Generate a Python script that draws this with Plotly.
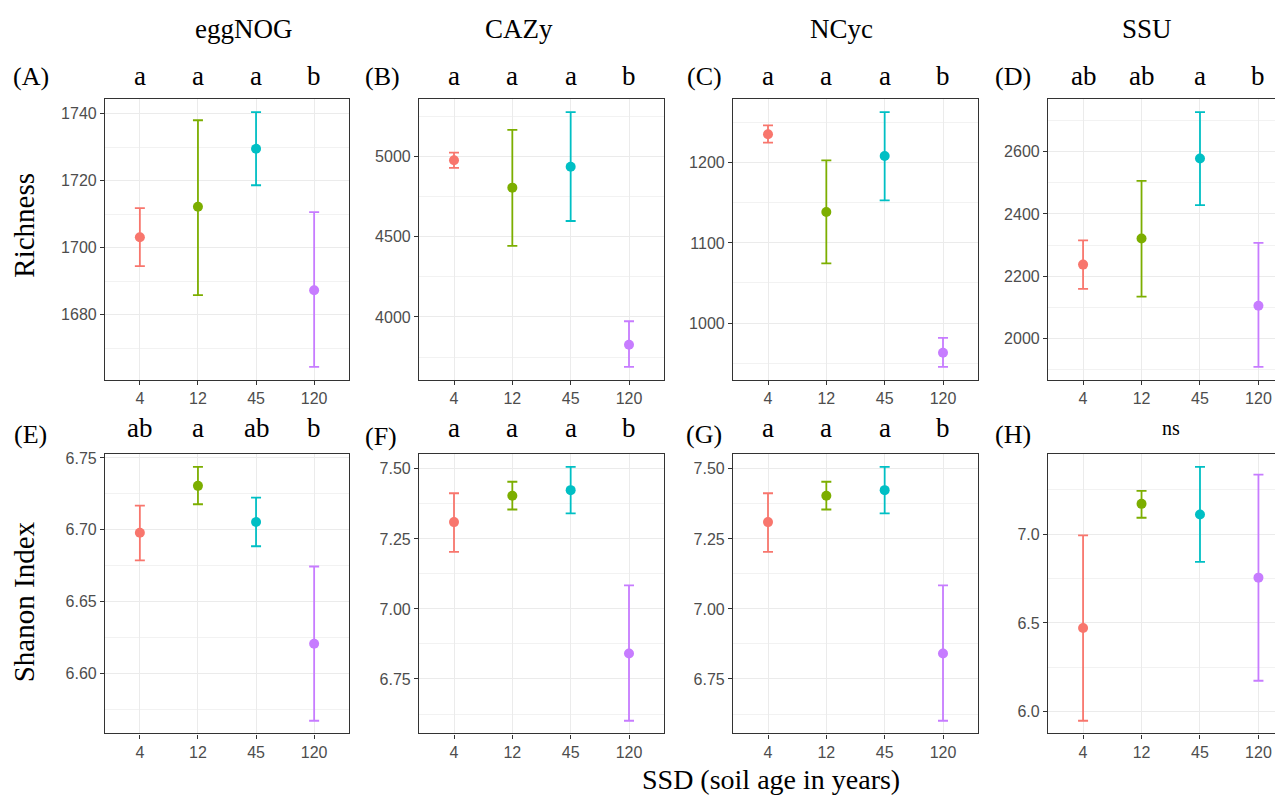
from plotly.subplots import make_subplots
import plotly.graph_objects as go

# page shows an 8px body margin, so the figure is 8px smaller than the window
OFF = 8
W, H = 1283 - OFF, 802 - OFF

ages = ["4", "12", "45", "120"]
colors = ["#F8766D", "#7CAE00", "#00BFC4", "#C77CFF"]

# Richness (mean, lower, upper)
egg_rich_mean = [1703.1, 1712.2, 1729.5, 1687.3]
egg_rich_lo = [1694.5, 1685.8, 1718.6, 1664.4]
egg_rich_hi = [1711.8, 1738.0, 1740.4, 1710.6]

cazy_rich_mean = [4978, 4807, 4938, 3827]
cazy_rich_lo = [4930, 4444, 4599, 3688]
cazy_rich_hi = [5025, 5167, 5278, 3973]

ncyc_rich_mean = [1235.4, 1138.6, 1208.3, 963.0]
ncyc_rich_lo = [1225.0, 1074.4, 1153.0, 945.3]
ncyc_rich_hi = [1246.5, 1202.8, 1263.0, 981.5]

ssu_rich_mean = [2237, 2321, 2578, 2105]
ssu_rich_lo = [2159, 2134, 2428, 1908]
ssu_rich_hi = [2315, 2506, 2727, 2307]

# Shannon index
egg_shan_mean = [6.698, 6.7306, 6.7055, 6.6208]
egg_shan_lo = [6.6788, 6.7178, 6.6886, 6.5672]
egg_shan_hi = [6.7169, 6.7438, 6.7224, 6.6745]

cazy_shan_mean = [7.310, 7.404, 7.424, 6.841]
cazy_shan_lo = [7.204, 7.355, 7.341, 6.601]
cazy_shan_hi = [7.413, 7.454, 7.507, 7.084]

ncyc_shan_mean = [7.310, 7.404, 7.424, 6.841]
ncyc_shan_lo = [7.204, 7.355, 7.341, 6.601]
ncyc_shan_hi = [7.413, 7.454, 7.507, 7.084]

ssu_shan_mean = [6.472, 7.170, 7.110, 6.755]
ssu_shan_lo = [5.950, 7.092, 6.844, 6.175]
ssu_shan_hi = [6.993, 7.243, 7.378, 7.335]

# significance letters
letters_rich = [["a", "a", "a", "b"], ["a", "a", "a", "b"],
                ["a", "a", "a", "b"], ["ab", "ab", "a", "b"]]
letters_shan = [["ab", "a", "ab", "b"], ["a", "a", "a", "b"],
                ["a", "a", "a", "b"], None]

db_names = ["eggNOG", "CAZy", "NCyc", "SSU"]
panel_tags = ["(A)", "(B)", "(C)", "(D)", "(E)", "(F)", "(G)", "(H)"]

panels = [
    (egg_rich_mean, egg_rich_lo, egg_rich_hi, 20, "d"),
    (cazy_rich_mean, cazy_rich_lo, cazy_rich_hi, 500, "d"),
    (ncyc_rich_mean, ncyc_rich_lo, ncyc_rich_hi, 100, "d"),
    (ssu_rich_mean, ssu_rich_lo, ssu_rich_hi, 200, "d"),
    (egg_shan_mean, egg_shan_lo, egg_shan_hi, 0.05, ".2f"),
    (cazy_shan_mean, cazy_shan_lo, cazy_shan_hi, 0.25, ".2f"),
    (ncyc_shan_mean, ncyc_shan_lo, ncyc_shan_hi, 0.25, ".2f"),
    (ssu_shan_mean, ssu_shan_lo, ssu_shan_hi, 0.5, ".1f"),
]

# pixel layout of plot panels (page pixels)
col_px = [(105, 349), (419, 664), (733, 978), (1048, 1283)]
row_px = [(95, 377), (452, 733)]


def fx(x):
    return (x - OFF) / W


def fy(y):
    return 1 - (y - OFF) / H


serif = "Liberation Serif"
sans = "Liberation Sans"

fig = make_subplots(rows=2, cols=4)

for i, (m, lo, hi, dt, fmt) in enumerate(panels):
    r, c = i // 4 + 1, i % 4 + 1
    for k in range(4):
        fig.add_trace(go.Scatter(
            x=[ages[k]], y=[m[k]], mode="markers",
            marker=dict(color=colors[k], size=10),
            error_y=dict(type="data", symmetric=False,
                         array=[hi[k] - m[k]], arrayminus=[m[k] - lo[k]],
                         color=colors[k], thickness=1.8, width=5),
            showlegend=False, hoverinfo="skip"), row=r, col=c)

    ymin, ymax = min(lo), max(hi)
    span = ymax - ymin
    x0, x1 = col_px[c - 1]
    y0, y1 = row_px[r - 1]
    xr = [-0.6, 3.6] if c < 4 else [-0.6, 3.42]
    n = i + 1
    fig.update_layout({
        f"xaxis{n}": dict(
            domain=[fx(x0), min(fx(x1), 1)], type="category",
            categoryorder="array", categoryarray=ages, range=xr,
            showgrid=True, gridcolor="#EBEBEB", gridwidth=1.2,
            showline=True, linecolor="#333333", linewidth=1.2, mirror=True,
            ticks="outside", ticklen=4, tickcolor="#333333", tickwidth=1,
            tickfont=dict(family=sans, size=16, color="#4D4D4D"),
            zeroline=False, fixedrange=True),
        f"yaxis{n}": dict(
            domain=[fy(y1), fy(y0)],
            range=[ymin - 0.05 * span, ymax + 0.05 * span],
            tick0=0, dtick=dt, tickformat=fmt,
            showgrid=True, gridcolor="#EBEBEB", gridwidth=1.2,
            minor=dict(dtick=dt / 2, tick0=0, showgrid=True,
                       gridcolor="#F2F2F2", gridwidth=0.8),
            showline=True, linecolor="#333333", linewidth=1.2,
            mirror=(c < 4),
            ticks="outside", ticklen=4, tickcolor="#333333", tickwidth=1,
            tickfont=dict(family=sans, size=16, color="#4D4D4D"),
            zeroline=False, fixedrange=True),
    })

ann = []


def txt(x, y, s, size, **kw):
    d = dict(x=x, y=y, text=s, showarrow=False,
             xanchor="center", yanchor="middle",
             font=dict(family=serif, size=size, color="black"))
    d.update(kw)
    ann.append(d)


# database titles
for name, cx in zip(db_names, [243, 519, 841, 1147]):
    txt(fx(cx), fy(24), name, 27, xref="paper", yref="paper")

# panel tags
tag_pos = [(31, 72), (382, 72), (704, 72), (1013, 72),
           (30, 432), (381, 434), (704, 432), (1013, 432)]
for t, (px, py) in zip(panel_tags, tag_pos):
    txt(fx(px), fy(py), t, 26, xref="paper", yref="paper")

# significance letters, placed over each category (by category index)
for c in range(4):
    for k in range(4):
        txt(k, fy(71), letters_rich[c][k], 27,
            xref=f"x{c + 1}", yref="paper")
        if letters_shan[c] is not None:
            txt(k, fy(426), letters_shan[c][k], 27,
                xref=f"x{c + 5}", yref="paper")
txt(1.5, fy(426), "ns", 20, xref="x8", yref="paper")

# axis titles
txt(fx(24), fy(222), "Richness", 29, xref="paper", yref="paper",
    textangle=-90)
txt(fx(24), fy(601), "Shanon Index", 29, xref="paper", yref="paper",
    textangle=-90)
txt(fx(771), fy(779), "SSD (soil age in years)", 28,
    xref="paper", yref="paper")

fig.update_layout(
    width=W, height=H, margin=dict(l=0, r=0, t=0, b=0),
    paper_bgcolor="white", plot_bgcolor="white",
    annotations=ann, showlegend=False,
)

fig.write_html("out.html")
